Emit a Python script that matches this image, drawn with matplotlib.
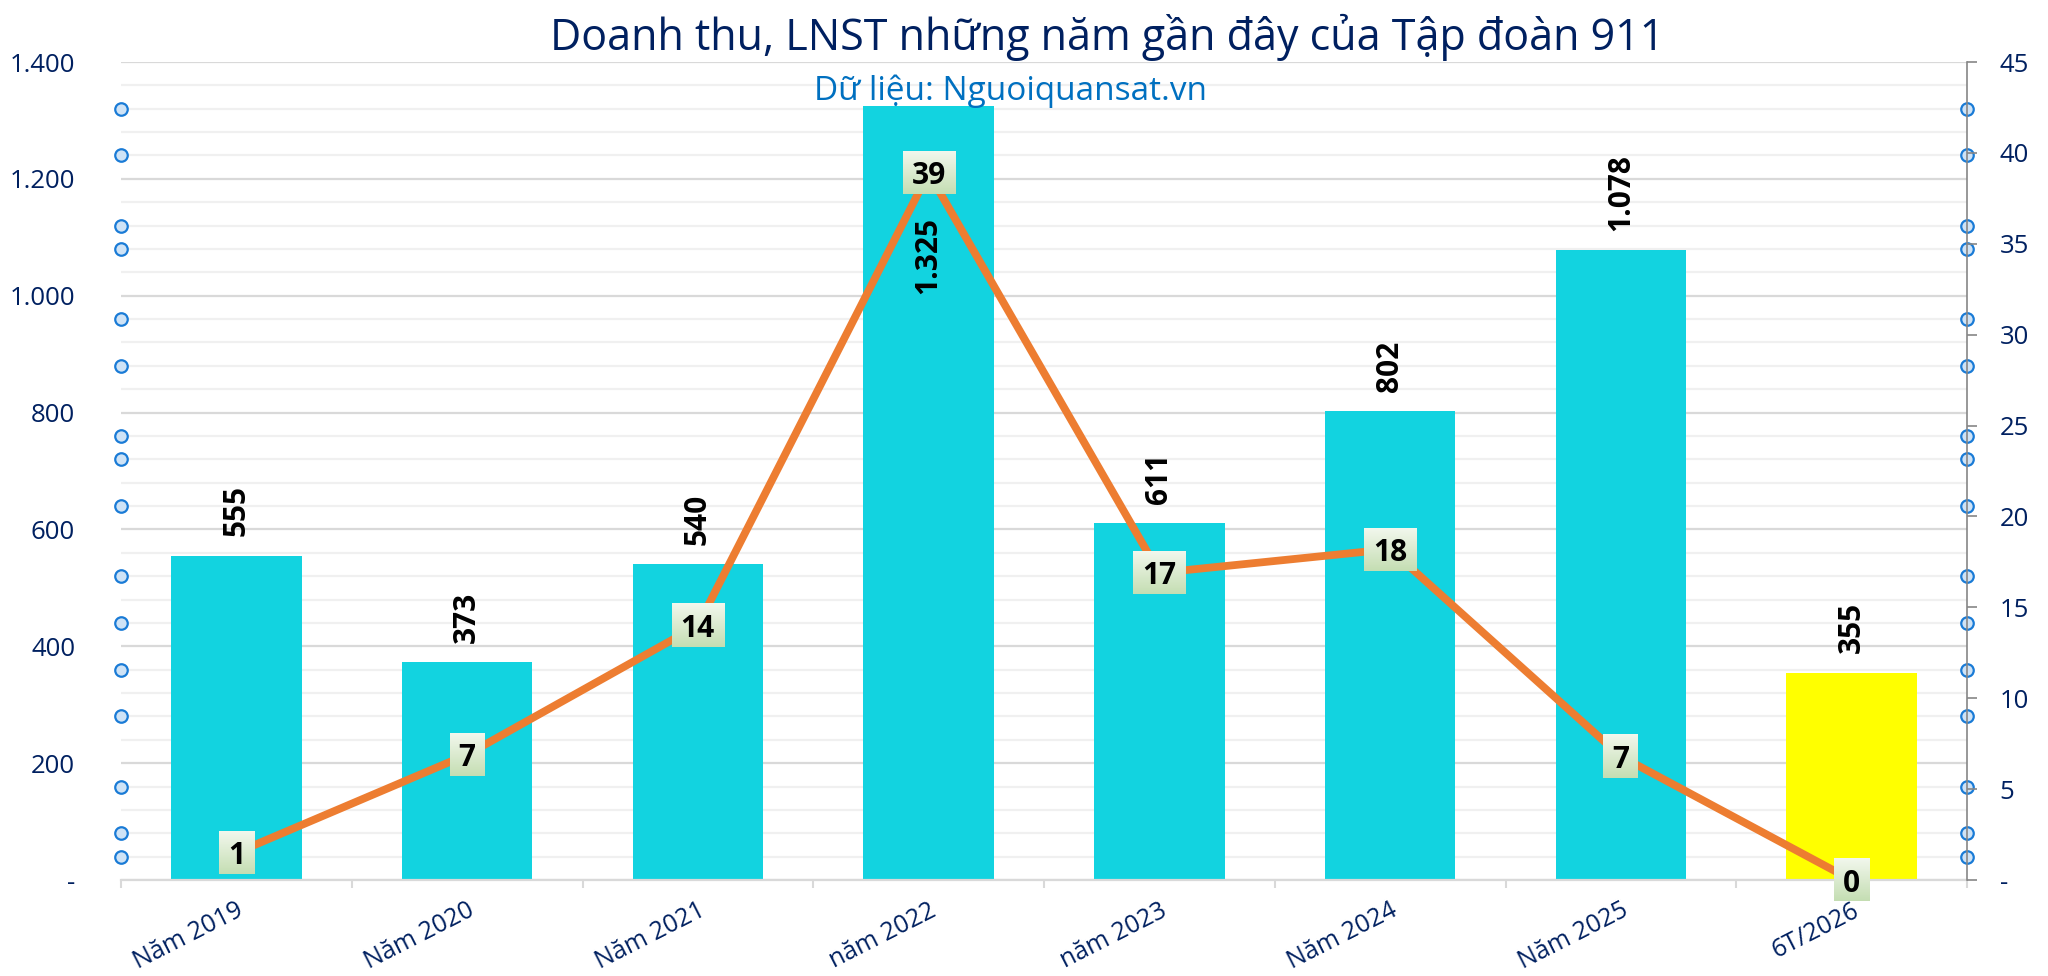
import matplotlib
matplotlib.use('Agg')
import matplotlib.pyplot as plt
import matplotlib.transforms as mtransforms
from matplotlib.ticker import FixedLocator, MultipleLocator
import numpy as np

plt.rcParams['font.family'] = ['Open Sans', 'DejaVu Sans']

# ---------------- data ----------------
categories = ['Năm 2019', 'Năm 2020', 'Năm 2021', 'năm 2022', 'năm 2023',
              'Năm 2024', 'Năm 2025', '6T/2026']
revenue = [555, 373, 540, 1325, 611, 802, 1078, 355]
revenue_labels = ['555', '373', '540', '1.325', '611', '802', '1.078', '355']
profit = [1.5, 6.9, 14.0, 38.9, 16.9, 18.2, 6.8, 0.0]
profit_labels = ['1', '7', '14', '39', '17', '18', '7', '0']
bar_colors = ['#12D3E0'] * 7 + ['#FFFF00']
left_ticks = [0, 200, 400, 600, 800, 1000, 1200, 1400]
left_tick_labels = ['-', '200', '400', '600', '800', '1.000', '1.200', '1.400']
right_ticks = [0, 5, 10, 15, 20, 25, 30, 35, 40, 45]
right_tick_labels = ['-', '5', '10', '15', '20', '25', '30', '35', '40', '45']
handle_levels = [1320, 1240, 1120, 1080, 960, 880, 760, 720, 640, 520,
                 440, 360, 280, 160, 80, 40]

title = 'Doanh thu, LNST những năm gần đây của Tập đoàn 911'
subtitle = 'Dữ liệu: Nguoiquansat.vn'

NAVY = '#002060'

# ---------------- figure ----------------
W, H = 2048, 976
fig = plt.figure(figsize=(W / 100, H / 100), dpi=100)
ax = fig.add_axes([121 / W, 1 - 880 / H, (1967 - 121) / W, (880 - 62) / H])

x = np.arange(len(categories))
ax.bar(x, revenue, width=0.565, color=bar_colors, zorder=2)
ax.set_xlim(-0.5, len(categories) - 0.5)
ax.set_ylim(0, 1400)

# grid
ax.yaxis.set_major_locator(FixedLocator(left_ticks))
ax.yaxis.set_minor_locator(MultipleLocator(40))
ax.yaxis.grid(True, which='minor', color='#f0f0f0', lw=1.6, zorder=0)
ax.yaxis.grid(True, which='major', color='#d9d9d9', lw=1.6, zorder=0)
ax.set_axisbelow(True)
ax.set_yticklabels(left_tick_labels)
ax.tick_params(axis='y', which='both', length=0, labelsize=18.5,
               labelcolor=NAVY, pad=33)

# x axis
ax.set_xticks(x)
ax.set_xticks(np.arange(-0.5, len(categories)), minor=True)
ax.set_xticklabels(categories, rotation=27, ha='right', va='top',
                   rotation_mode='anchor')
ax.tick_params(axis='x', which='major', length=0, labelsize=18,
               labelcolor=NAVY, pad=13)
ax.tick_params(axis='x', which='minor', length=6, width=1.5, color='#d9d9d9')

for s in ['left', 'top', 'right']:
    ax.spines[s].set_visible(False)
ax.spines['bottom'].set_color('#d9d9d9')
ax.spines['bottom'].set_linewidth(1.6)

# secondary axis
ax2 = ax.twinx()
ax2.set_ylim(0, 45)
ax2.set_yticks(right_ticks)
ax2.set_yticklabels(right_tick_labels)
ax2.tick_params(axis='y', length=7.5, width=1.2, color='#868686',
                labelsize=18.5, labelcolor=NAVY, pad=16)
for s in ['left', 'top', 'bottom']:
    ax2.spines[s].set_visible(False)
ax2.spines['right'].set_color('#868686')
ax2.spines['right'].set_linewidth(1.2)

ax2.plot(x, profit, color='#ED7D31', lw=5.6, zorder=3, solid_joinstyle='miter')

# bar value labels
for xi, v, lab in zip(x, revenue, revenue_labels):
    if v > 1250:
        ax.annotate(lab, (xi, v), xytext=(0, -80), textcoords='offset points',
                    rotation=90, ha='center', va='top', fontsize=21.5,
                    fontweight='bold', color='black', zorder=6)
    else:
        ax.annotate(lab, (xi, v), xytext=(0, 14), textcoords='offset points',
                    rotation=90, ha='center', va='bottom', fontsize=21.5,
                    fontweight='bold', color='black', zorder=6)

# profit labels with gradient boxes
texts = []
for xi, v, lab in zip(x, profit, profit_labels):
    t = ax2.text(xi, v, lab, ha='center', va='center_baseline', fontsize=21.5,
                 fontweight='bold', color='black', zorder=8, clip_on=False)
    texts.append(t)

# selection-handle circles at both ends of some gridlines
blend = mtransforms.blended_transform_factory(ax.transAxes, ax.transData)
for xa in (0, 1):
    ax.plot([xa] * len(handle_levels), handle_levels, linestyle='none',
            marker='o', ms=9, mfc='#cfe3f6', mec='#1a7bd6', mew=1.6,
            transform=blend, clip_on=False, zorder=7)

# titles
fig.text(1107 / W, 1 - 50 / H, title, ha='center', va='baseline',
         fontsize=31, color=NAVY)
fig.text(1010 / W, 1 - 100 / H, subtitle, ha='center', va='baseline',
         fontsize=24, color='#0070C0')

# draw gradient boxes behind profit labels
fig.canvas.draw()
renderer = fig.canvas.get_renderer()
grad = np.linspace(0, 1, 64)[:, None]
top_c = np.array([0.95, 0.97, 0.93])
bot_c = np.array([0.77, 0.87, 0.70])
img = (top_c[None, None, :] * (1 - grad[:, :, None]) +
       bot_c[None, None, :] * grad[:, :, None])
inv = ax2.transData.inverted()
for t, xi, v in zip(texts, x, profit):
    bb = t.get_window_extent(renderer)
    cx, cy = ax2.transData.transform((xi, v))
    bw = bb.width + 18
    bh = 43
    (x0, y0) = inv.transform((cx - bw / 2, cy - bh / 2))
    (x1, y1) = inv.transform((cx + bw / 2, cy + bh / 2))
    ax2.imshow(img, extent=[x0, x1, y0, y1], aspect='auto', zorder=5,
               interpolation='bilinear', clip_on=False)
ax2.set_xlim(-0.5, len(categories) - 0.5)
ax2.set_ylim(0, 45)

fig.savefig('out.png', dpi=100)
